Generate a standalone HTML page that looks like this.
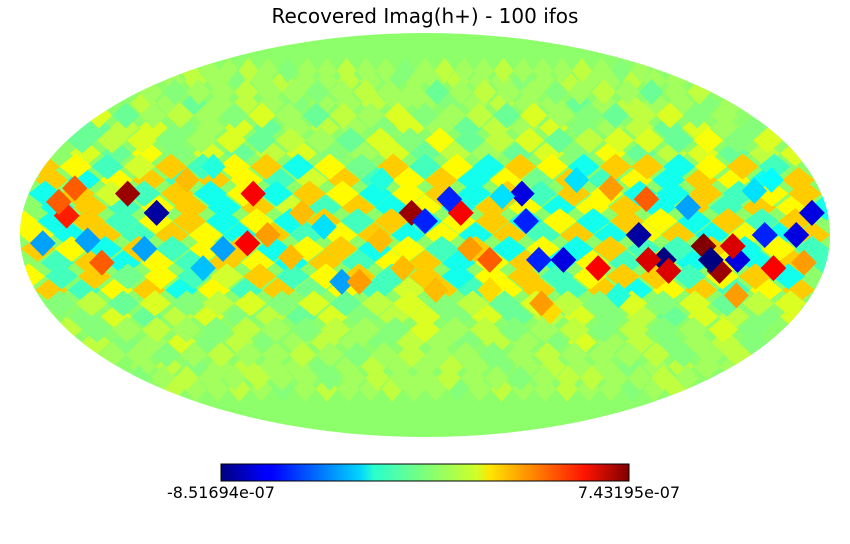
<!DOCTYPE html>
<html><head><meta charset="utf-8"><style>
body{margin:0;background:#fff;width:850px;height:540px;overflow:hidden;font-family:"DejaVu Sans","Liberation Sans",sans-serif}
</style></head><body>
<svg width="850" height="540">
<defs>
<linearGradient id="jet" x1="0" x2="1" y1="0" y2="0">
<stop offset="0" stop-color="#00007f"/><stop offset="0.11" stop-color="#0000ff"/><stop offset="0.125" stop-color="#0000ff"/>
<stop offset="0.34" stop-color="#00d4ff"/><stop offset="0.375" stop-color="#29ffce"/><stop offset="0.5" stop-color="#7dff7a"/>
<stop offset="0.625" stop-color="#ceff29"/><stop offset="0.66" stop-color="#ffe500"/><stop offset="0.89" stop-color="#ff1400"/>
<stop offset="1" stop-color="#7f0000"/></linearGradient>
<clipPath id="ell"><ellipse cx="425" cy="235" rx="405" ry="202"/></clipPath>
</defs>
<text x="425" y="23" text-anchor="middle" font-size="20">Recovered Imag(h+) - 100 ifos</text>
<ellipse cx="425" cy="235" rx="405" ry="202" fill="#8cff6a"/>
<g id="cells" clip-path="url(#ell)"></g>
<rect x="221" y="464" width="408" height="17" fill="url(#jet)" stroke="#000" stroke-width="1"/>
<text x="221" y="498" text-anchor="middle" font-size="16">-8.51694e-07</text>
<text x="629" y="498" text-anchor="middle" font-size="16">7.43195e-07</text>
</svg>
<script>
// background lattice: lat rows, values per lon column (x0.5e-7)
const gridLats=[60,50,40,30,20,10,0,-10,-20,-30,-40,-50,-60];
const gridVals=[
[0,1,0,-1,0,1,0,0,1,0,-1,0,0,1,0,0,-1,0,1,0,0,1,0,0],
[1,0,-2,0,1,0,-1,0,0,1,0,0,-1,0,1,0,0,-2,0,1,0,0,-1,0],
[-2,1,2,-1,0,2,-2,0,1,0,-1,2,0,-2,1,0,2,-1,0,1,-2,2,0,-1],
[2,-2,3,-1,2,-2,1,2,-1,0,2,-2,1,0,-2,2,-1,3,-2,1,2,-2,1,2],
[3,-3,2,3,-2,3,2,-2,1,3,-2,2,3,-3,2,-1,3,-2,2,-3,3,2,-3,3],
[-3,3,-2,2,3,-3,3,1,-2,3,-3,2,-3,3,2,-3,2,3,-3,3,-2,3,2,-3],
[2,-3,3,-2,3,2,-3,3,-2,2,3,-3,2,-3,3,-2,3,-3,2,3,-3,2,-3,3],
[-2,3,-3,2,-2,3,2,-3,3,-2,2,3,-3,2,3,-3,2,-2,3,-3,2,-3,3,-2],
[3,-2,2,3,-3,2,-2,3,-1,2,-2,1,3,-2,2,3,-2,3,-3,2,3,-2,2,3],
[-1,2,-2,1,2,-1,1,-2,2,-1,1,2,-1,2,-2,1,2,-1,1,-2,2,1,-1,2],
[1,-1,0,2,-1,1,-1,0,1,0,-1,1,0,-1,1,0,-1,2,0,1,-1,0,1,-1],
[0,1,-1,0,1,0,0,-1,0,1,0,0,1,0,-1,0,1,0,0,-1,0,1,0,0],
[1,0,0,1,0,-1,0,1,0,0,1,0,0,-1,0,1,0,0,1,0,0,-1,0,1]];
const lons=[-135,-120,-78,-79,-6,16,0,11,44,45,29,51,62,78,95,107,100,110,124,133,128,140,137,157,165,173,151,100,-160,-160,-38,-100,-55,-20,-30,60,-150,-145,-110,-90,-60,-45,-10,20,35,70,85,118,150,170,-170,-125,-70,5,55,90,145,-165,160,-100,-20,30];
const lats=[15,8,15,-3,8,8,5,13,15,5,-9,-9,-9,-12,0,-9,-9,-13,-4,-13,-9,-9,-4,-12,0,8,0,13,7,17,-17,-12,8,-2,-17,-28,-2,-10,20,-5,-8,3,-12,-5,14,20,17,10,16,-10,-3,-5,0,-20,-25,-22,-22,12,20,25,20,-20];
const vals=[7e-7,-8e-7,5.5e-7,5.5e-7,7e-7,5.5e-7,-6e-7,-6e-7,-7e-7,-6e-7,4e-7,-6e-7,-7e-7,5.5e-7,-8e-7,-8.5e-7,6e-7,6e-7,7.4e-7,7e-7,-8.5e-7,-7e-7,6e-7,5.5e-7,-7e-7,-7e-7,-6e-7,4e-7,5e-7,4e-7,-4e-7,-3.5e-7,2.5e-7,2.5e-7,3e-7,2e-7,-4e-7,4e-7,2.5e-7,-4e-7,2.5e-7,-3e-7,2.5e-7,3e-7,-3e-7,-3e-7,3e-7,-4e-7,-3e-7,3e-7,-4e-7,-4e-7,3e-7,2.5e-7,3e-7,-2e-7,3e-7,4e-7,-2.5e-7,-2e-7,-2e-7,2e-7];
const VMIN=-8.51694e-7,VMAX=7.43195e-7,CX=425,CY=235,RX=405,RY=202;
function jet(t){t=Math.max(0,Math.min(1,t));
 const r=Math.min(4*t-1.5,-4*t+4.5),g=Math.min(4*t-0.5,-4*t+3.5),b=Math.min(4*t+0.5,-4*t+2.5);
 const c=v=>Math.round(255*Math.max(0,Math.min(1,v)));return `rgb(${c(r)},${c(g)},${c(b)})`;}
function proj(lon,lat){const p=lat*Math.PI/180;let th=p;
 for(let i=0;i<30;i++){const f=2*th+Math.sin(2*th)-Math.PI*Math.sin(p);const d=2+2*Math.cos(2*th);if(Math.abs(d)<1e-9)break;th-=f/d;}
 return [CX+RX*(lon/180)*Math.cos(th),CY-RY*Math.sin(th),Math.cos(th)];}
const g=document.getElementById('cells');
function cell(lon,lat,v,hw,hh){
 const [x,y,c]=proj(lon,lat);const w=hw*Math.max(0.35,c);
 const p=document.createElementNS('http://www.w3.org/2000/svg','polygon');
 p.setAttribute('points',`${x},${y-hh} ${x+w},${y} ${x},${y+hh} ${x-w},${y}`);
 p.setAttribute('fill',jet((v-VMIN)/(VMAX-VMIN)));
 
 
 g.appendChild(p);}
for(let r=0;r<gridLats.length;r++){
 const row=gridVals[r];const step=360/row.length;const off=(r%2)*step/2;
 const sc=Math.abs(gridLats[r])<=20?0.75e-7:0.45e-7;
 for(let k=0;k<row.length;k++){
  cell(-180+step/2+k*step+off,gridLats[r],row[k]*sc,step*1.13,13);
  cell(-180+k*step+off,gridLats[r]+5,row[(k+5)%row.length]*sc,step*1.13,13);
 }}
for(let i=0;i<vals.length;i++) cell(lons[i],lats[i],vals[i],13,13);
</script>
</body></html>
